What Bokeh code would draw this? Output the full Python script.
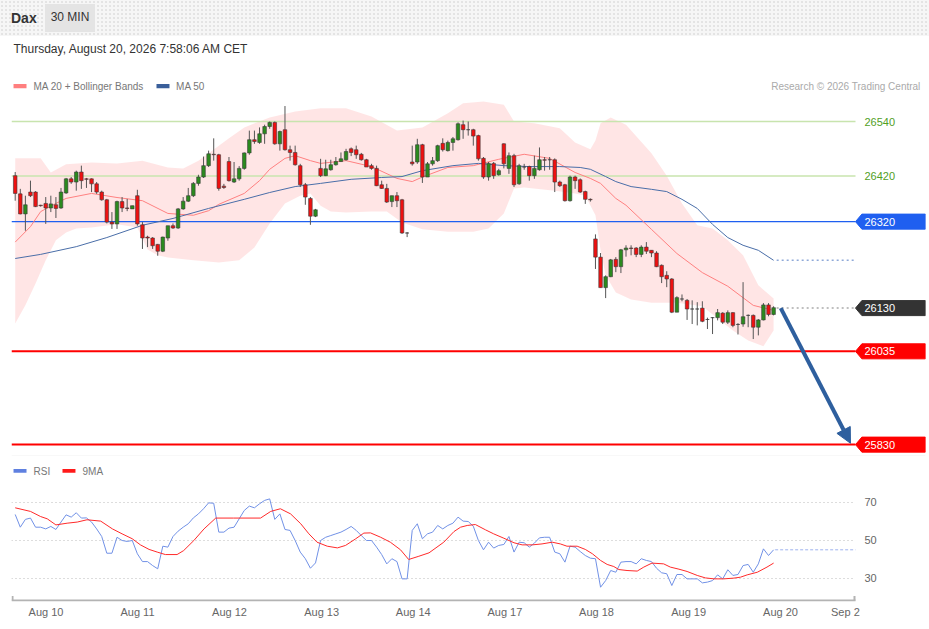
from bokeh.plotting import figure
from bokeh.models import Range1d, FixedTicker, Div, Arrow, NormalHead
from bokeh.layouts import column
from bokeh.core.properties import value
from bokeh.embed import file_html
from bokeh.resources import INLINE

FONT = "Liberation Sans"

# ---------------- data ----------------
opens = [26421,26381,26337,26385,26385,26356,26360,26350,26357,26350,
         26383,26414,26407,26429,26414,26414,26403,26385,26368,26319,
         26315,26364,26350,26348,26377,26313,26286,26284,26270,26255,
         26284,26311,26306,26348,26365,26377,26404,26418,26443,26468,
         26467,26398,26452,26407,26414,26437,26471,26500,26494,26513,
         26529,26538,26491,26522,26478,26472,26443,26401,26371,26332,
         26437,26421,26434,26445,26452,26456,26480,26478,26468,26456,
         26443,26437,26401,26393,26364,26377,26368,26295,26451,26451,
         26489,26418,26447,26454,26492,26476,26494,26500,26533,26522,
         26522,26509,26459,26418,26448,26423,26491,26437,26465,26403,
         26440,26441,26421,26434,26456,26456,26456,26407,26401,26366,
         26418,26412,26386,26369,26282,26242,26175,26199,26237,26221,
         26258,26262,26262,26248,26264,26257,26251,26224,26202,26194,
         26121,26150,26147,26128,26128,26130,26105,26109,26109,26119,
         26099,26120,26094,26095,26114,26114,26088,26104,26137,26116]
highs = [26429,26392,26377,26410,26387,26357,26374,26377,26374,26394,
         26416,26418,26432,26443,26416,26415,26407,26388,26370,26341,
         26366,26374,26370,26355,26390,26319,26289,26286,26271,26287,
         26311,26316,26350,26374,26394,26407,26423,26463,26476,26503,
         26469,26403,26462,26451,26442,26472,26520,26520,26527,26533,
         26540,26540,26520,26574,26487,26487,26447,26405,26374,26348,
         26458,26456,26456,26462,26472,26480,26483,26487,26471,26458,
         26447,26443,26410,26403,26377,26385,26370,26297,26487,26502,
         26491,26451,26462,26489,26503,26498,26506,26538,26542,26540,
         26524,26511,26462,26451,26451,26436,26492,26472,26469,26447,
         26447,26443,26465,26483,26462,26462,26459,26410,26403,26421,
         26421,26415,26388,26371,26292,26251,26202,26238,26242,26260,
         26268,26268,26264,26268,26275,26257,26255,26226,26211,26196,
         26156,26160,26150,26147,26143,26145,26109,26110,26128,26121,
         26125,26121,26097,26187,26116,26116,26106,26141,26141,26134]
lows = [26366,26336,26300,26374,26352,26353,26315,26341,26328,26348,
        26381,26403,26388,26392,26394,26385,26381,26366,26316,26304,
        26304,26341,26343,26348,26311,26260,26264,26260,26245,26253,
        26278,26304,26304,26346,26363,26374,26399,26416,26440,26454,
        26388,26392,26408,26405,26410,26434,26467,26491,26491,26491,
        26524,26489,26476,26476,26454,26443,26396,26357,26313,26330,
        26418,26420,26432,26443,26451,26454,26464,26458,26454,26440,
        26434,26398,26392,26361,26352,26352,26293,26286,26443,26447,
        26405,26418,26443,26451,26474,26474,26476,26498,26502,26509,
        26487,26454,26414,26410,26414,26421,26437,26425,26396,26401,
        26434,26410,26414,26432,26432,26434,26385,26396,26364,26364,
        26392,26383,26359,26364,26216,26175,26152,26198,26209,26207,
        26243,26246,26242,26242,26249,26242,26220,26185,26176,26119,
        26121,26145,26104,26095,26092,26099,26084,26073,26103,26095,
        26095,26088,26072,26089,26088,26062,26070,26103,26112,26114]
closes = [26382,26337,26357,26377,26353,26355,26350,26359,26349,26385,
          26414,26407,26429,26410,26413,26403,26385,26368,26319,26315,
          26364,26350,26349,26355,26315,26284,26284,26267,26255,26286,
          26311,26306,26348,26365,26377,26404,26418,26443,26469,26467,
          26393,26395,26410,26414,26437,26471,26500,26496,26513,26529,
          26538,26491,26518,26478,26472,26445,26401,26374,26332,26346,
          26421,26436,26445,26452,26458,26474,26472,26467,26456,26440,
          26437,26399,26393,26363,26377,26366,26295,26295,26447,26489,
          26418,26447,26454,26487,26478,26494,26502,26535,26522,26522,
          26508,26458,26418,26448,26421,26432,26447,26465,26401,26443,
          26440,26421,26437,26456,26455,26456,26407,26399,26366,26418,
          26410,26385,26369,26368,26242,26175,26199,26236,26221,26258,
          26262,26261,26248,26264,26255,26251,26221,26199,26194,26121,
          26153,26150,26128,26128,26128,26101,26105,26109,26120,26099,
          26120,26092,26094,26111,26114,26088,26104,26137,26116,26131]

ma20_x = [0,3,5,8,10,15,20,25,30,35,38,40,45,48,50,53,55,58,60,65,
          70,75,78,80,85,90,95,100,105,110,113,115,118,120,125,130,135,140,145,149]
ma20 = [26275,26309,26342,26360,26371,26382,26373,26366,26338,26334,
        26344,26358,26382,26410,26435,26459,26465,26454,26448,26454,
        26441,26415,26408,26418,26439,26443,26457,26468,26459,26428,
        26415,26404,26371,26356,26303,26250,26208,26178,26136,26125]

band_up_x = [0,5,7,10,15,20,25,30,33,36,38,42,45,50,55,60,65,70,75,80,85,
             88,92,96,98,102,107,110,113,114,115,117,120,125,128,131,134,137,140,143,146,149]
band_up = [26459,26459,26428,26446,26450,26448,26454,26439,26437,26454,
           26470,26503,26527,26549,26562,26569,26569,26551,26520,26527,
           26558,26580,26584,26577,26540,26536,26525,26494,26479,26498,
           26536,26549,26533,26470,26421,26360,26312,26305,26279,26246,
           26180,26151]
band_lo_x = [0,2,4,6,8,10,12,15,20,24,26,28,30,35,40,44,47,50,53,56,
             58,60,62,65,70,73,76,80,85,90,93,96,98,100,106,110,112,114,115,116,
             118,121,125,130,135,138,141,144,147,149]
band_lo = [26096,26136,26184,26235,26279,26296,26305,26307,26314,26307,
           26259,26246,26241,26235,26230,26235,26263,26316,26360,26377,
           26382,26355,26342,26340,26342,26342,26318,26303,26298,26298,
           26305,26338,26393,26395,26388,26382,26377,26334,26257,26202,
           26164,26149,26142,26142,26134,26107,26081,26059,26046,26081]

ma50_x = [0,5,12,18,25,31,38,45,50,55,60,66,72,76,80,86,91,96,101,107,
          111,113,116,118,121,125,128,131,134,137,140,143,146,149]
ma50 = [26239,26248,26265,26285,26312,26327,26349,26369,26384,26397,
        26404,26413,26417,26419,26432,26443,26448,26443,26441,26441,
        26439,26435,26419,26408,26397,26391,26386,26369,26349,26314,
        26285,26268,26257,26235]

rsi = [63.7,57.0,61.1,61.8,57.0,57.0,56.1,57.4,55.8,59.7,
       63.5,62.3,64.6,61.8,61.9,59.7,56.1,52.1,43.3,43.3,
       51.7,50.0,49.5,50.0,43.0,38.9,38.9,36.8,35.1,47.0,
       46.5,52.1,54.9,57.0,58.8,61.9,64.0,66.7,69.8,69.6,
       54.4,54.4,56.5,57.0,61.4,65.8,68.1,67.2,69.3,71.1,
       71.9,61.1,64.0,55.8,55.3,50.0,43.9,40.4,35.4,38.2,
       50.0,51.7,52.6,53.5,54.4,55.8,57.4,55.3,52.6,50.0,
       50.0,46.5,42.6,37.7,40.4,38.9,29.8,29.8,55.3,58.8,
       50.9,53.5,54.4,57.9,56.1,57.9,59.1,62.3,60.2,60.0,
       57.5,50.0,45.1,49.1,46.0,47.4,47.9,52.1,43.9,49.1,
       48.8,46.5,48.6,51.4,51.7,51.7,43.9,43.0,38.6,47.0,
       46.5,44.2,42.1,40.7,40.4,25.4,28.9,34.2,33.3,38.6,
       38.9,38.9,37.7,40.4,39.5,38.9,35.4,33.0,32.5,26.3,
       32.1,32.1,29.8,29.8,29.8,27.7,28.1,28.9,31.9,29.8,
       34.6,31.6,32.1,36.8,37.4,33.3,37.7,45.6,42.1,45.1]

ma9_x = [0,3,5,6.3,8,10.2,12.2,14.1,16.8,19.1,
         21,23,24.6,26.3,27.9,29.5,31.8,33.1,35.1,37.1,
         39.4,42.9,48.2,50.2,52.1,54.1,56.1,57.7,59.3,61.3,
         63.3,64.9,66.9,68.5,69.8,71.8,73.7,75.7,77.3,79.3,
         81.3,84.2,86.2,87.5,88.8,90.4,92.4,94,96,98,
         99.6,101.6,103.5,105.5,107.1,108.4,110.4,112,113.4,115,
         116.3,117.6,118.6,120.2,122.2,123.5,125.1,127.4,128.7,130.4,
         132,134,135.6,137.3,139.2,141.2,142.5,143.8,145.8,147.7,149]
ma9 = [67.2,65.3,62.6,61.4,58.2,59.1,59.7,60.9,60.2,56.1,
       53.5,50.9,47.7,45.3,43.9,42.6,42.6,44.7,50.0,56.1,
       61.8,61.8,61.8,65.3,66.7,64.0,58.8,53.5,49.1,47.0,
       46.1,47.4,50.9,53.9,54.0,51.7,49.1,45.1,40.0,41.7,
       43.5,49.1,54.7,57.0,57.9,58.4,55.6,53.5,51.2,48.8,
       47.7,47.7,48.2,49.1,48.2,47.0,47.0,45.3,43.0,39.5,
       37.4,36.3,34.7,34.2,33.9,36.0,38.1,37.7,36.0,34.9,
       33.7,31.6,30.3,29.8,29.8,30.2,30.7,31.9,33.3,36.0,38.1]

resistances = [26540, 26420]
pivot = 26320
last_price = 26130
supports = [26035, 25830]
target = 25830

day_ticks = [6.05, 24.03, 42.1, 60.2, 78.2, 96.2, 114.2, 132.3, 150.35, 163.1]
day_labels = ["Aug 10", "Aug 11", "Aug 12", "Aug 13", "Aug 14", "Aug 17",
              "Aug 18", "Aug 19", "Aug 20", "Sep 2"]
rsi_levels = [30, 50, 70]

title = "Dax"
interval = "30 MIN"
stamp = "Thursday, August 20, 2026 7:58:06 AM CET"
credit = "Research \u00a9 2026 Trading Central"

# ---------------- layout constants ----------------
W = 929
X0, XLINE, XEND = -0.727, 165.09, 178.84
YMIN, YMAX = 25803.9, 26726.8
HALF = 16.5   # half height of price tags (price units)
TX = 166.85   # x of tag texts
idx = list(range(len(closes)))
n = len(closes)

GREEN_LINE = "#c8e4ae"
GREEN_TXT = "#52a01f"
BLUE = "#1f5ff0"
RED = "#ff0000"
DARK = "#333333"

header = Div(text=(
    "<div style=\"width:929px;height:36px;background-color:#f6f6f6;"
    "background-image:radial-gradient(#e3e3e3 0.7px, transparent 0.8px);"
    "background-size:4px 4px;display:flex;align-items:center;"
    "font-family:'Liberation Sans',Arial,sans-serif;\">"
    "<span style=\"font-weight:bold;font-size:14px;color:#333;margin-left:11px;\">%s</span>"
    "<span style=\"margin-left:8px;background:#e4e4e4;padding:5px 6px;font-size:12px;color:#333;\">%s</span>"
    "</div>") % (title, interval), width=W, height=36, margin=(0, 0, 0, 0))

p = figure(width=W, height=420, x_range=Range1d(X0, XEND), y_range=Range1d(YMIN, YMAX),
           output_backend="svg", toolbar_location=None, x_axis_type=None, y_axis_type=None,
           min_border_left=11, min_border_right=4, min_border_top=0, min_border_bottom=0,
           margin=(0, 0, 0, 0))
p.outline_line_color = None
p.grid.visible = False
p.background_fill_color = "white"
p.border_fill_color = "white"

# Bollinger band
p.patch(band_up_x + band_lo_x[::-1], band_up + band_lo[::-1],
        fill_color="#ff0000", fill_alpha=0.1, line_color=None)

# key levels
for lv in resistances:
    p.segment(x0=[X0], x1=[XLINE], y0=[lv], y1=[lv], line_color=GREEN_LINE, line_width=1.5)
p.segment(x0=[X0], x1=[XLINE], y0=[pivot], y1=[pivot], line_color=BLUE, line_width=1.3)
for lv in supports:
    p.segment(x0=[X0], x1=[XLINE], y0=[lv], y1=[lv], line_color=RED, line_width=2)
p.segment(x0=[n - 0.4], x1=[XLINE], y0=[last_price], y1=[last_price],
          line_color="#aaaaaa", line_width=1.5, line_dash="2 3")

# moving averages
p.line(ma20_x, ma20, line_color="#ff8080", line_width=1)
p.line(ma50_x, ma50, line_color="#4a6ea8", line_width=1)
p.segment(x0=[ma50_x[-1] + 0.6], x1=[XLINE], y0=[ma50[-1]], y1=[ma50[-1]],
          line_color="#8fa9d8", line_width=1.5, line_dash="2 3")

# candles
tops = [max(o, c) for o, c in zip(opens, closes)]
bots = [min(o, c) for o, c in zip(opens, closes)]
cols = ["#2b8a1e" if c >= o else "#ee1111" for o, c in zip(opens, closes)]
p.segment(x0=idx, x1=idx, y0=lows, y1=highs, line_color="#555555", line_width=1)
p.vbar(x=idx, top=tops, bottom=bots, width=0.7, fill_color=cols, line_color="#3a3a3a", line_width=0.6)

# price tags
def tag(lv, color):
    p.patch([XLINE, XLINE + 1.25, XEND, XEND, XLINE + 1.25],
            [lv, lv + HALF, lv + HALF, lv - HALF, lv - HALF],
            fill_color=color, line_color=color)

tag(pivot, BLUE)
tag(last_price, DARK)
for lv in supports:
    tag(lv, RED)

p.text(x=[TX] * len(resistances), y=resistances, text=[str(v) for v in resistances],
       text_font=value(FONT), text_font_size="11px", text_color=GREEN_TXT,
       text_baseline="middle", text_align="left")
white_lv = [pivot, last_price] + supports
p.text(x=[TX] * len(white_lv), y=white_lv, text=[str(v) for v in white_lv],
       text_font=value(FONT), text_font_size="11px", text_color="white",
       text_baseline="middle", text_align="left")

# arrow to target
p.add_layout(Arrow(end=NormalHead(size=15, fill_color="#2e5f9e", line_color="#2e5f9e"),
                   x_start=n + 0.4, y_start=last_price, x_end=164.1, y_end=target + 3,
                   line_color="#2e5f9e", line_width=4))

# texts inside the chart
p.text(x=[-0.33], y=[26700], text=[stamp], text_font=value(FONT), text_font_size="12px",
       text_color="#333333", text_baseline="middle", text_align="left")
p.quad(left=[-0.33, 27.76], right=[2.22, 30.31], top=[26622.5, 26622.5], bottom=[26613, 26613],
       fill_color=["#ff7f7f", "#3a5f9a"], line_color=None)
p.text(x=[3.6, 31.6], y=[26617, 26617], text=["MA 20 + Bollinger Bands", "MA 50"],
       text_font=value(FONT), text_font_size="10px", text_color="#777777",
       text_baseline="middle", text_align="left")
p.text(x=[177.86], y=[26617], text=[credit], text_font=value(FONT), text_font_size="10px",
       text_color="#aaaaaa", text_baseline="middle", text_align="right")
p.segment(x0=[X0], x1=[XEND], y0=[YMIN + 1], y1=[YMIN + 1], line_color="#efefef", line_width=1)

# ---------------- RSI panel ----------------
RMIN, RMAX = 17.89, 92.1
RAX = 18.42   # level of the time axis line
r = figure(width=W, height=173, x_range=Range1d(X0, XEND), y_range=Range1d(RMIN, RMAX),
           output_backend="svg", toolbar_location=None, y_axis_type=None,
           min_border_left=11, min_border_right=4, min_border_top=4, min_border_bottom=28,
           margin=(0, 0, 0, 0))
r.outline_line_color = None
r.background_fill_color = "white"
r.border_fill_color = "white"
r.grid.visible = False

r.xaxis.ticker = FixedTicker(ticks=day_ticks)
r.xaxis.major_label_overrides = {t: l for t, l in zip(day_ticks, day_labels)}
r.xaxis.axis_line_color = None
r.xaxis.major_tick_line_color = None
r.xaxis.minor_tick_line_color = None
r.xaxis.major_tick_out = 0
r.xaxis.major_tick_in = 0
r.xaxis.major_label_standoff = 4
r.xaxis.major_label_text_font = FONT
r.xaxis.major_label_text_font_size = "11px"
r.xaxis.major_label_text_color = "#666666"

# grid levels and their labels
r.segment(x0=[X0] * 3, x1=[XLINE - 0.5] * 3, y0=rsi_levels, y1=rsi_levels,
          line_color="#bbbbbb", line_width=1, line_dash="1 3")
r.text(x=[TX] * 3, y=rsi_levels, text=[str(v) for v in rsi_levels], text_font=value(FONT),
       text_font_size="11px", text_color="#666666", text_baseline="middle", text_align="left")

# time axis line with end ticks
r.segment(x0=[X0], x1=[XLINE], y0=[RAX], y1=[RAX], line_color="#b3b3b3", line_width=2)
r.segment(x0=[X0 + 0.2, XLINE - 0.2], x1=[X0 + 0.2, XLINE - 0.2], y0=[RAX, RAX],
          y1=[RAX + 2.4, RAX + 2.4], line_color="#b3b3b3", line_width=2)

r.line(idx, rsi, line_color="#7191e6", line_width=1)
r.line(ma9_x, ma9, line_color="#ff2a2a", line_width=1)
r.segment(x0=[idx[-1] + 0.3], x1=[XLINE], y0=[rsi[-1]], y1=[rsi[-1]],
          line_color="#9fb3ee", line_width=1, line_dash="3 2")

r.quad(left=[-0.33, 9.29], right=[2.22, 11.84], top=[87.6, 87.6], bottom=[85.6, 85.6],
       fill_color=["#5f80e0", "#ff1a1a"], line_color=None)
r.text(x=[3.6, 13.22], y=[86.5, 86.5], text=["RSI", "9MA"], text_font=value(FONT),
       text_font_size="10px", text_color="#777777", text_baseline="middle", text_align="left")

layout = column(header, p, r, spacing=0)
open("out.html", "w").write(file_html(layout, INLINE))
